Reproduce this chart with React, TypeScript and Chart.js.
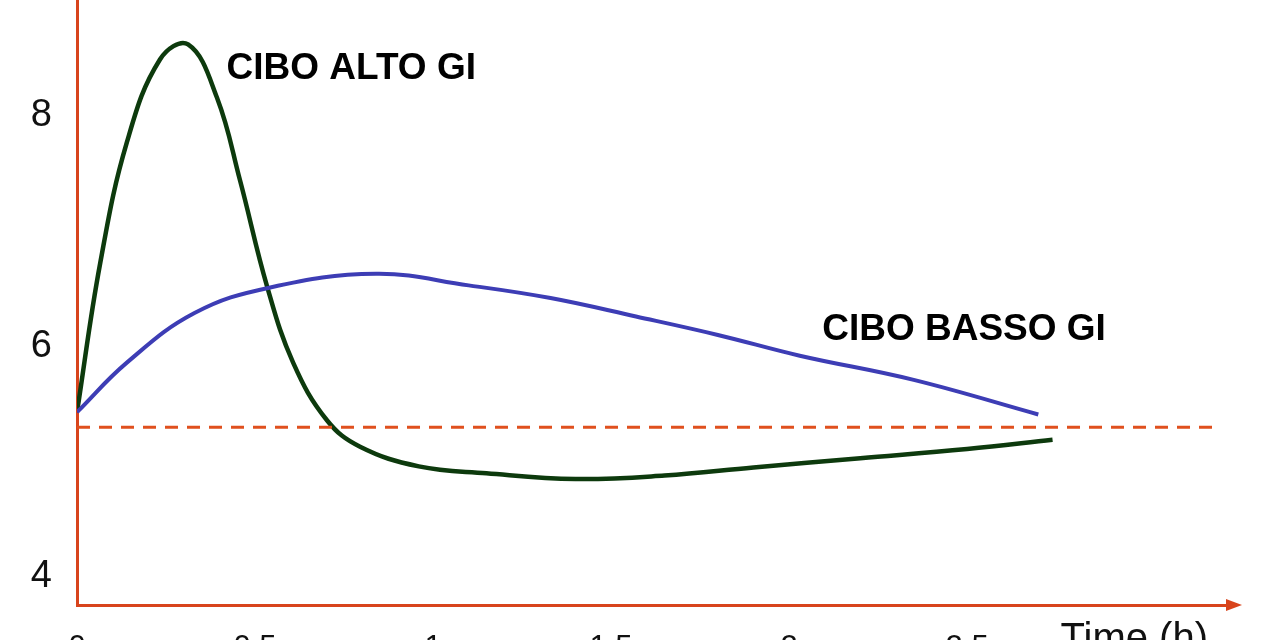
import { useEffect, useRef } from "react"
import { Chart, registerables } from "chart.js"

Chart.register(...registerables)

// blood glucose after a meal
const altoHours = [0, 0.065, 0.14, 0.233, 0.312, 0.393, 0.458, 0.534, 0.607, 0.702, 0.795, 0.96, 1.15, 1.4, 1.65, 1.9, 2.2, 2.5, 2.74]
const altoValues = [5.43, 6.72, 7.77, 8.49, 8.62, 8.16, 7.44, 6.52, 5.86, 5.36, 5.13, 4.96, 4.9, 4.85, 4.88, 4.95, 5.03, 5.11, 5.19]

const bassoHours = [0, 0.14, 0.33, 0.54, 0.84, 1.1, 1.33, 1.57, 1.8, 2.03, 2.35, 2.7]
const bassoValues = [5.43, 5.86, 6.29, 6.51, 6.63, 6.53, 6.42, 6.26, 6.1, 5.92, 5.71, 5.41]

const baselineHours = [0, 3.21]
const baselineValue = 5.3

const xTicks = [0, 0.5, 1, 1.5, 2, 2.5]
const yTicks = [4, 6, 8]

const labelAlto = "CIBO ALTO GI"
const labelBasso = "CIBO BASSO GI"
const xTitle = "Time (h)"

const FONT = "'Liberation Sans', Arial, sans-serif"
const AXIS = "#d8441c"

const toPoints = (xs: number[], ys: number[]) => xs.map((x, i) => ({ x, y: ys[i] }))

const decorations = {
  id: "decorations",
  afterDatasetsDraw(chart: any) {
    const { ctx, scales, chartArea } = chart
    const x = scales.x
    const y = scales.y
    ctx.save()
    ctx.fillStyle = "#000"
    ctx.textBaseline = "alphabetic"
    ctx.textAlign = "left"
    ctx.font = `bold 37px ${FONT}`
    ctx.fillText(labelAlto, x.getPixelForValue(0.42), y.getPixelForValue(8.32))
    ctx.fillText(labelBasso, x.getPixelForValue(2.093), y.getPixelForValue(6.056))

    ctx.font = `40px ${FONT}`
    ctx.textAlign = "right"
    ctx.fillStyle = "#111"
    ctx.fillText(xTitle, chartArea.right - 24, chartArea.bottom + 46)

    // arrow head on the time axis
    ctx.fillStyle = AXIS
    ctx.beginPath()
    ctx.moveTo(chartArea.right - 6, chartArea.bottom - 6)
    ctx.lineTo(chartArea.right + 10, chartArea.bottom)
    ctx.lineTo(chartArea.right - 6, chartArea.bottom + 6)
    ctx.closePath()
    ctx.fill()
    ctx.restore()
  },
}

export default function App() {
  const chartRef = useRef<HTMLCanvasElement>(null)
  const chartInstance = useRef<Chart | null>(null)

  useEffect(() => {
    const canvas = chartRef.current
    if (!canvas) return
    const ctx = canvas.getContext("2d")
    if (!ctx) return

    if (chartInstance.current) chartInstance.current.destroy()

    chartInstance.current = new Chart(ctx, {
      type: "line",
      data: {
        datasets: [
          {
            label: "baseline",
            data: toPoints(baselineHours, baselineHours.map(() => baselineValue)),
            borderColor: "#e0501e",
            borderWidth: 3,
            borderDash: [13, 9],
            pointRadius: 0,
          },
          {
            label: labelBasso,
            data: toPoints(bassoHours, bassoValues),
            borderColor: "#3d3db5",
            borderWidth: 4,
            pointRadius: 0,
            tension: 0.4,
          },
          {
            label: labelAlto,
            data: toPoints(altoHours, altoValues),
            borderColor: "#0d3a0d",
            borderWidth: 4.5,
            pointRadius: 0,
            tension: 0.4,
          },
        ],
      },
      options: {
        animation: false,
        responsive: true,
        maintainAspectRatio: false,
        layout: { padding: { left: 0, top: 0, right: 48, bottom: 0 } },
        plugins: {
          legend: { display: false },
          tooltip: { enabled: false },
        },
        scales: {
          x: {
            type: "linear",
            min: 0,
            max: 3.244,
            grid: { display: false, drawTicks: false },
            border: { display: true, color: AXIS, width: 3 },
            afterBuildTicks: (scale: any) => {
              scale.ticks = xTicks.map((value) => ({ value }))
            },
            afterFit: (scale: any) => {
              scale.height = 95
              scale.paddingLeft = 0
              scale.paddingRight = 0
            },
            ticks: {
              color: "#111",
              padding: 25,
              maxRotation: 0,
              autoSkip: false,
              font: { family: FONT, size: 31 },
              callback: (v: any) => String(v),
            },
          },
          y: {
            min: 3.757,
            max: 9.006,
            grid: { display: false, drawTicks: false },
            border: { display: true, color: AXIS, width: 3 },
            afterBuildTicks: (scale: any) => {
              scale.ticks = yTicks.map((value) => ({ value }))
            },
            afterFit: (scale: any) => {
              scale.width = 77
              scale.paddingTop = 0
              scale.paddingBottom = 0
            },
            ticks: {
              color: "#111",
              padding: 25,
              font: { family: FONT, size: 38 },
              callback: (v: any) => String(v),
            },
          },
        },
      },
      plugins: [decorations],
    })

    return () => {
      if (chartInstance.current) {
        chartInstance.current.destroy()
        chartInstance.current = null
      }
    }
  }, [])

  return (
    <div style={{ position: "fixed", left: 0, top: 0, width: 1280, height: 700, background: "#fff" }}>
      <canvas ref={chartRef} />
    </div>
  )
}
